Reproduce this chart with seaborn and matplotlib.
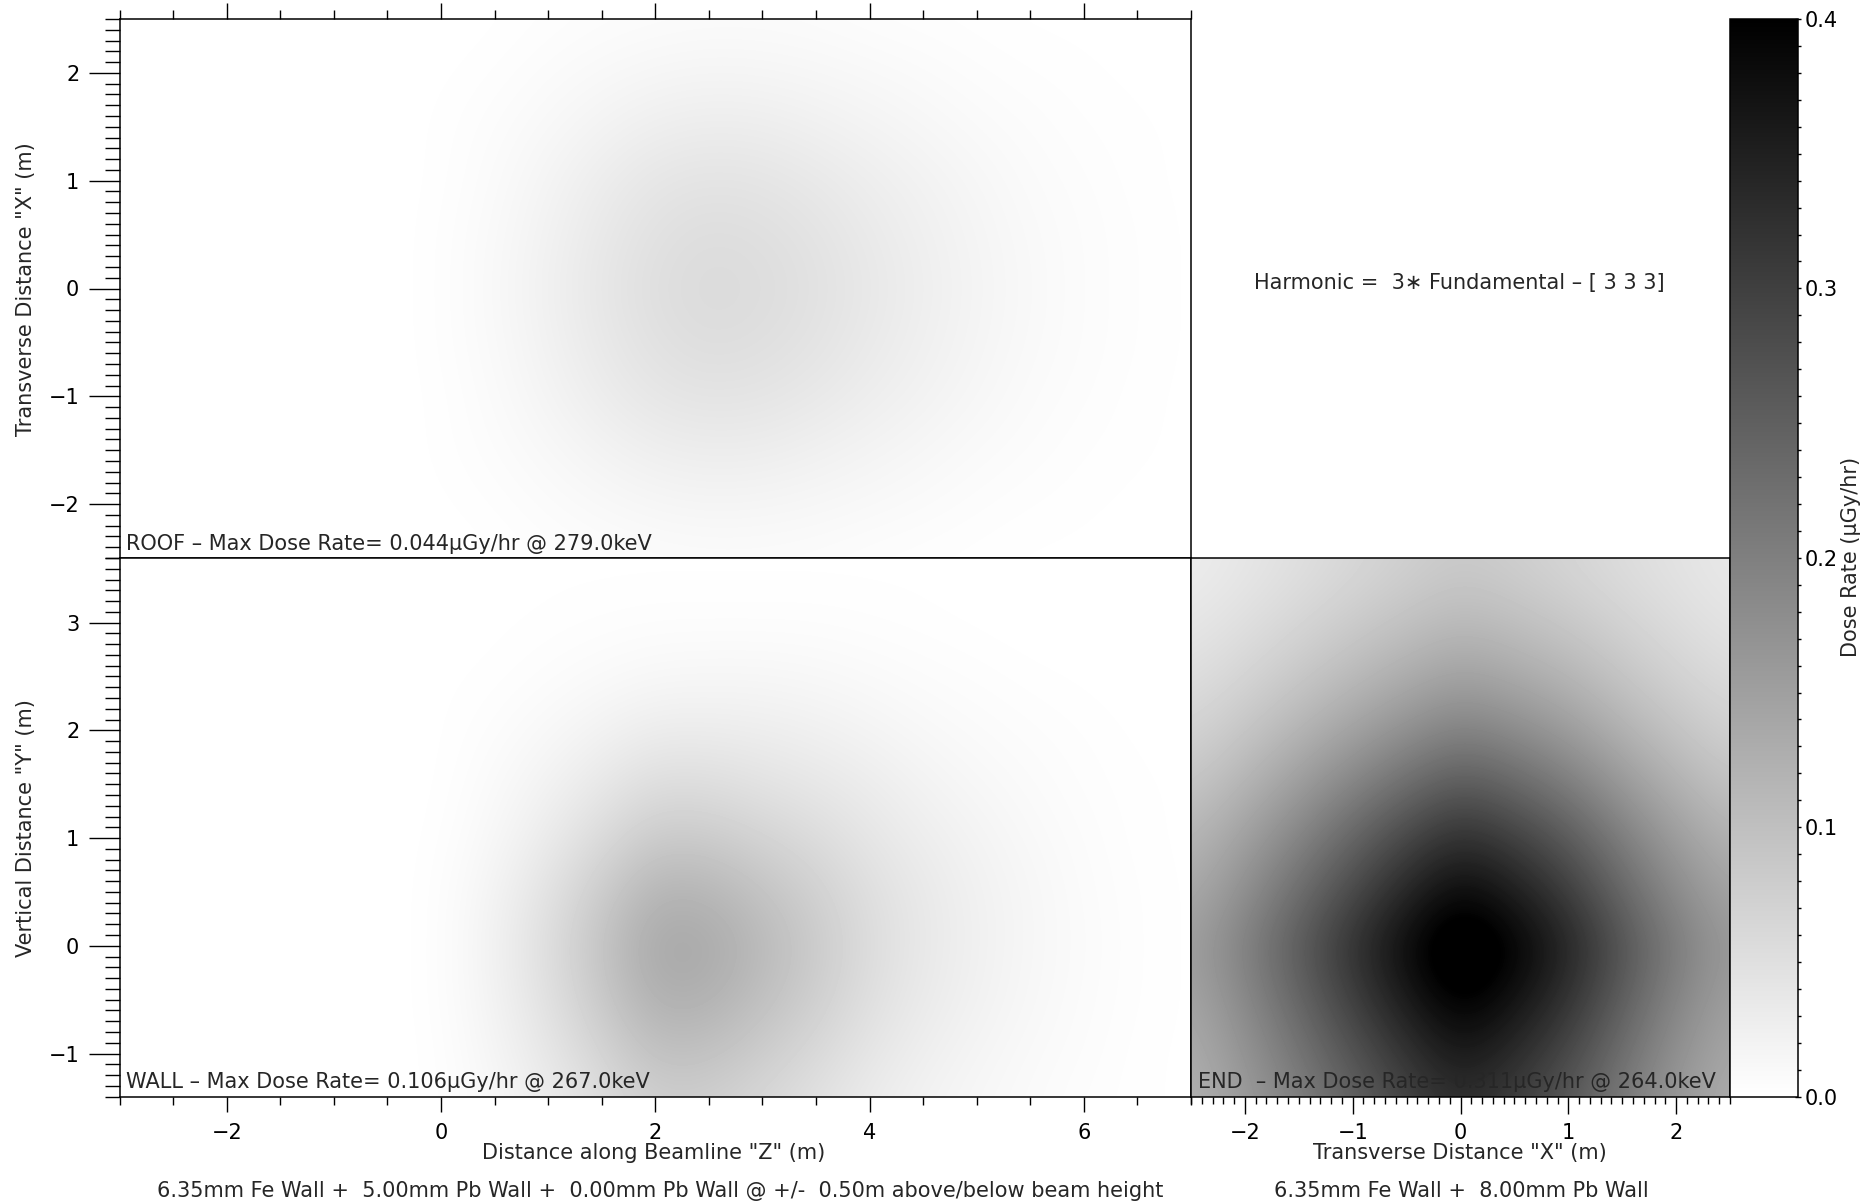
import numpy as np
import matplotlib
matplotlib.use("Agg")
import matplotlib.pyplot as plt
from matplotlib.ticker import MultipleLocator, FormatStrFormatter
import seaborn as sns

# grid positions (m) of the dose values
z_pts = [-3.0, -2.5, -2.0, -1.5, -1.0, -0.5, 0.0, 0.5, 1.0, 1.5, 2.0,
         2.5, 3.0, 3.5, 4.0, 4.5, 5.0, 5.5, 6.0, 6.5, 7.0]
x_pts = [-2.5, -2.0, -1.5, -1.0, -0.5, 0.0, 0.5, 1.0, 1.5, 2.0, 2.5]
y_pts = [-1.5, -1.0, -0.5, 0.0, 0.5, 1.0, 1.5, 2.0, 2.5, 3.0, 3.5]

# ROOF dose (uGy/hr), rows from x=+2.5 (top) down to x=-2.5, columns along z
roof_dose = [
    [0, 0, 0, 0, 0, 0, 0, 0.001, 0.003, 0.005, 0.006, 0.007, 0.007, 0.006, 0.004, 0.003, 0.002, 0.001, 0.001, 0, 0],
    [0, 0, 0, 0, 0, 0, 0.001, 0.003, 0.007, 0.011, 0.015, 0.017, 0.016, 0.014, 0.011, 0.008, 0.005, 0.003, 0.002, 0.001, 0],
    [0, 0, 0, 0, 0, 0, 0.002, 0.006, 0.012, 0.020, 0.027, 0.030, 0.029, 0.024, 0.019, 0.014, 0.009, 0.006, 0.003, 0.002, 0.001],
    [0, 0, 0, 0, 0, 0, 0.002, 0.008, 0.018, 0.030, 0.040, 0.044, 0.042, 0.036, 0.028, 0.021, 0.014, 0.008, 0.005, 0.002, 0.001],
    [0, 0, 0, 0, 0, 0, 0.003, 0.010, 0.022, 0.036, 0.048, 0.054, 0.051, 0.044, 0.034, 0.025, 0.017, 0.010, 0.006, 0.003, 0.001],
    [0, 0, 0, 0, 0, 0, 0.003, 0.011, 0.024, 0.039, 0.052, 0.058, 0.055, 0.047, 0.037, 0.027, 0.018, 0.011, 0.006, 0.003, 0.001],
    [0, 0, 0, 0, 0, 0, 0.003, 0.010, 0.022, 0.036, 0.048, 0.054, 0.051, 0.044, 0.034, 0.025, 0.017, 0.010, 0.006, 0.003, 0.001],
    [0, 0, 0, 0, 0, 0, 0.002, 0.008, 0.018, 0.030, 0.040, 0.044, 0.042, 0.036, 0.028, 0.021, 0.014, 0.008, 0.005, 0.002, 0.001],
    [0, 0, 0, 0, 0, 0, 0.002, 0.006, 0.012, 0.020, 0.027, 0.030, 0.029, 0.024, 0.019, 0.014, 0.009, 0.006, 0.003, 0.002, 0.001],
    [0, 0, 0, 0, 0, 0, 0.001, 0.003, 0.007, 0.011, 0.015, 0.017, 0.016, 0.014, 0.011, 0.008, 0.005, 0.003, 0.002, 0.001, 0],
    [0, 0, 0, 0, 0, 0, 0, 0.001, 0.003, 0.005, 0.006, 0.007, 0.007, 0.006, 0.004, 0.003, 0.002, 0.001, 0.001, 0, 0],
]

# WALL dose, rows from y=3.5 (top) down to y=-1.5, columns along z
wall_dose = [
    [0, 0, 0, 0, 0, 0, 0, 0, 0.001, 0.001, 0.001, 0.001, 0.001, 0.001, 0.001, 0.001, 0, 0, 0, 0, 0],
    [0, 0, 0, 0, 0, 0, 0, 0.001, 0.002, 0.003, 0.004, 0.004, 0.004, 0.004, 0.003, 0.002, 0.001, 0, 0, 0, 0],
    [0, 0, 0, 0, 0, 0, 0.001, 0.002, 0.005, 0.009, 0.013, 0.014, 0.014, 0.012, 0.009, 0.006, 0.004, 0.002, 0.001, 0, 0],
    [0, 0, 0, 0, 0, 0, 0.001, 0.005, 0.012, 0.021, 0.030, 0.030, 0.028, 0.024, 0.018, 0.012, 0.008, 0.005, 0.003, 0.001, 0],
    [0, 0, 0, 0, 0, 0, 0.001, 0.009, 0.021, 0.037, 0.054, 0.053, 0.045, 0.038, 0.030, 0.020, 0.013, 0.008, 0.004, 0.002, 0.001],
    [0, 0, 0, 0, 0, 0, 0.002, 0.013, 0.032, 0.058, 0.084, 0.082, 0.069, 0.056, 0.040, 0.028, 0.019, 0.011, 0.006, 0.002, 0.001],
    [0, 0, 0, 0, 0, 0, 0.003, 0.019, 0.046, 0.082, 0.119, 0.116, 0.095, 0.074, 0.051, 0.035, 0.023, 0.014, 0.007, 0.003, 0.001],
    [0, 0, 0, 0, 0, 0, 0.003, 0.022, 0.053, 0.095, 0.138, 0.135, 0.110, 0.083, 0.055, 0.036, 0.024, 0.014, 0.008, 0.003, 0.001],
    [0, 0, 0, 0, 0, 0, 0.003, 0.020, 0.048, 0.086, 0.126, 0.123, 0.100, 0.076, 0.050, 0.033, 0.022, 0.013, 0.007, 0.003, 0.001],
    [0, 0, 0, 0, 0, 0, 0.002, 0.016, 0.038, 0.068, 0.099, 0.097, 0.079, 0.060, 0.040, 0.026, 0.017, 0.010, 0.006, 0.002, 0.001],
    [0, 0, 0, 0, 0, 0, 0.002, 0.012, 0.029, 0.052, 0.076, 0.074, 0.061, 0.046, 0.030, 0.020, 0.013, 0.008, 0.004, 0.002, 0.001],
]

# END dose, rows from y=3.5 (top) down to y=-1.5, columns along x
end_dose = [
    [0.029, 0.039, 0.050, 0.063, 0.075, 0.086, 0.078, 0.067, 0.055, 0.045, 0.036],
    [0.038, 0.050, 0.065, 0.081, 0.097, 0.111, 0.101, 0.087, 0.070, 0.055, 0.043],
    [0.051, 0.067, 0.087, 0.109, 0.130, 0.149, 0.135, 0.117, 0.092, 0.071, 0.056],
    [0.068, 0.090, 0.117, 0.146, 0.174, 0.199, 0.181, 0.156, 0.122, 0.094, 0.073],
    [0.089, 0.118, 0.154, 0.192, 0.229, 0.262, 0.238, 0.205, 0.161, 0.122, 0.095],
    [0.113, 0.149, 0.193, 0.242, 0.289, 0.330, 0.300, 0.259, 0.203, 0.154, 0.120],
    [0.133, 0.176, 0.229, 0.285, 0.341, 0.390, 0.355, 0.306, 0.239, 0.182, 0.142],
    [0.150, 0.199, 0.258, 0.322, 0.385, 0.440, 0.400, 0.345, 0.270, 0.205, 0.160],
    [0.140, 0.185, 0.240, 0.300, 0.359, 0.410, 0.373, 0.321, 0.252, 0.191, 0.149],
    [0.128, 0.168, 0.216, 0.268, 0.319, 0.365, 0.332, 0.286, 0.226, 0.173, 0.137],
    [0.120, 0.155, 0.197, 0.244, 0.289, 0.330, 0.300, 0.260, 0.207, 0.160, 0.128],
]

roof_text = "ROOF – Max Dose Rate= 0.044\u03bcGy/hr @ 279.0keV"
wall_text = "WALL – Max Dose Rate= 0.106\u03bcGy/hr @ 267.0keV"
end_text = "END  – Max Dose Rate= 0.311\u03bcGy/hr @ 264.0keV"
harmonic_text = "Harmonic =  3\u2217 Fundamental – [ 3 3 3]"
side_shield = "6.35mm Fe Wall +  5.00mm Pb Wall +  0.00mm Pb Wall @ +/-  0.50m above/below beam height"
end_shield = "6.35mm Fe Wall +  8.00mm Pb Wall"

sns.set_theme(style="white")
plt.rcParams["font.family"] = ["DejaVu Sans"]
plt.rcParams["axes.edgecolor"] = "black"
plt.rcParams["axes.linewidth"] = 1.1
plt.rcParams["xtick.color"] = "black"
plt.rcParams["ytick.color"] = "black"
fs = 15

W, H = 1875, 1203
fig = plt.figure(figsize=(W / 100, H / 100), dpi=100)


def box(l, t, r, b):
    return [l / W, 1 - b / H, (r - l) / W, (b - t) / H]


ax_roof = fig.add_axes(box(119.6, 19, 1191, 558))
ax_wall = fig.add_axes(box(119.6, 558, 1191, 1096.6))
ax_end = fig.add_axes(box(1191, 558, 1730, 1096.6))
cax = fig.add_axes(box(1730, 19, 1798, 1096.6))


def ext(cols, rows):
    return (cols[0] - 0.25, cols[-1] + 0.25, rows[0] - 0.25, rows[-1] + 0.25)


kw = dict(cmap="gray_r", vmin=0, vmax=0.4, interpolation="bicubic",
          aspect="auto", origin="upper")
ax_roof.imshow(np.array(roof_dose), extent=ext(z_pts, x_pts), **kw)
ax_wall.imshow(np.array(wall_dose), extent=ext(z_pts, y_pts), **kw)
im = ax_end.imshow(np.array(end_dose), extent=ext(x_pts, y_pts), **kw)

ax_roof.set_xlim(-3, 7)
ax_roof.set_ylim(-2.5, 2.5)
ax_wall.set_xlim(-3, 7)
ax_wall.set_ylim(-1.4, 3.6)
ax_end.set_xlim(-2.5, 2.5)
ax_end.set_ylim(-1.4, 3.6)

for ax in (ax_roof, ax_wall):
    ax.yaxis.set_major_locator(MultipleLocator(1))
    ax.yaxis.set_minor_locator(MultipleLocator(0.1))
    ax.xaxis.set_major_locator(MultipleLocator(2))
    ax.xaxis.set_minor_locator(MultipleLocator(0.5))
    ax.tick_params(axis="y", which="both", direction="out", left=True, right=False,
                   labelsize=fs, width=1)
    ax.tick_params(axis="y", which="major", length=22, pad=7)
    ax.tick_params(axis="y", which="minor", length=11)

ax_roof.tick_params(axis="x", which="both", direction="out", top=True, bottom=False,
                    labeltop=False, labelbottom=False, width=1)
ax_roof.tick_params(axis="x", which="major", length=11.5)
ax_roof.tick_params(axis="x", which="minor", length=6.5)

ax_wall.tick_params(axis="x", which="both", direction="out", top=False, bottom=True,
                    labelsize=fs, width=1)
ax_wall.tick_params(axis="x", which="major", length=11, pad=8)
ax_wall.tick_params(axis="x", which="minor", length=6)

ax_end.xaxis.set_major_locator(MultipleLocator(1))
ax_end.xaxis.set_minor_locator(MultipleLocator(0.1))
ax_end.tick_params(axis="x", which="both", direction="out", top=False, bottom=True,
                   labelsize=fs, width=1)
ax_end.tick_params(axis="x", which="major", length=12, pad=7)
ax_end.tick_params(axis="x", which="minor", length=5)
ax_end.tick_params(axis="y", which="both", left=False, right=False, labelleft=False)

cb = fig.colorbar(im, cax=cax)
cb.outline.set_linewidth(1.1)
cb.outline.set_edgecolor("black")
cax.yaxis.set_major_locator(MultipleLocator(0.1))
cax.yaxis.set_minor_locator(MultipleLocator(0.01))
cax.yaxis.set_major_formatter(FormatStrFormatter("%.1f"))
cax.tick_params(which="both", direction="inout", right=True, left=False,
                labelsize=fs, width=1)
cax.tick_params(which="major", length=5, pad=2)
cax.tick_params(which="minor", length=4)

# panel captions
ax_roof.text(0.006, 0.008, roof_text, transform=ax_roof.transAxes,
             fontsize=fs, ha="left", va="bottom")
ax_wall.text(0.006, 0.008, wall_text, transform=ax_wall.transAxes,
             fontsize=fs, ha="left", va="bottom")
ax_end.text(0.013, 0.008, end_text, transform=ax_end.transAxes,
            fontsize=fs, ha="left", va="bottom")

fig.text(1254 / W, 1 - 283 / H, harmonic_text, fontsize=fs, ha="left", va="center")

# axis titles
fig.text(26 / W, 1 - 289 / H, 'Transverse Distance "X" (m)', fontsize=fs,
         rotation=90, ha="center", va="center")
fig.text(26 / W, 1 - 828 / H, 'Vertical Distance "Y" (m)', fontsize=fs,
         rotation=90, ha="center", va="center")
fig.text(654 / W, 1 - 1153 / H, 'Distance along Beamline "Z" (m)', fontsize=fs,
         ha="center", va="center")
fig.text(1460 / W, 1 - 1153 / H, 'Transverse Distance "X" (m)', fontsize=fs,
         ha="center", va="center")
fig.text(1851 / W, 1 - 557 / H, "Dose Rate (\u03bcGy/hr)", fontsize=fs,
         rotation=90, ha="center", va="center")

# shielding notes
fig.text(660 / W, 1 - 1191 / H, side_shield, fontsize=fs, ha="center", va="center")
fig.text(1461 / W, 1 - 1191 / H, end_shield, fontsize=fs, ha="center", va="center")

fig.savefig("out.png", dpi=100, facecolor="white")
